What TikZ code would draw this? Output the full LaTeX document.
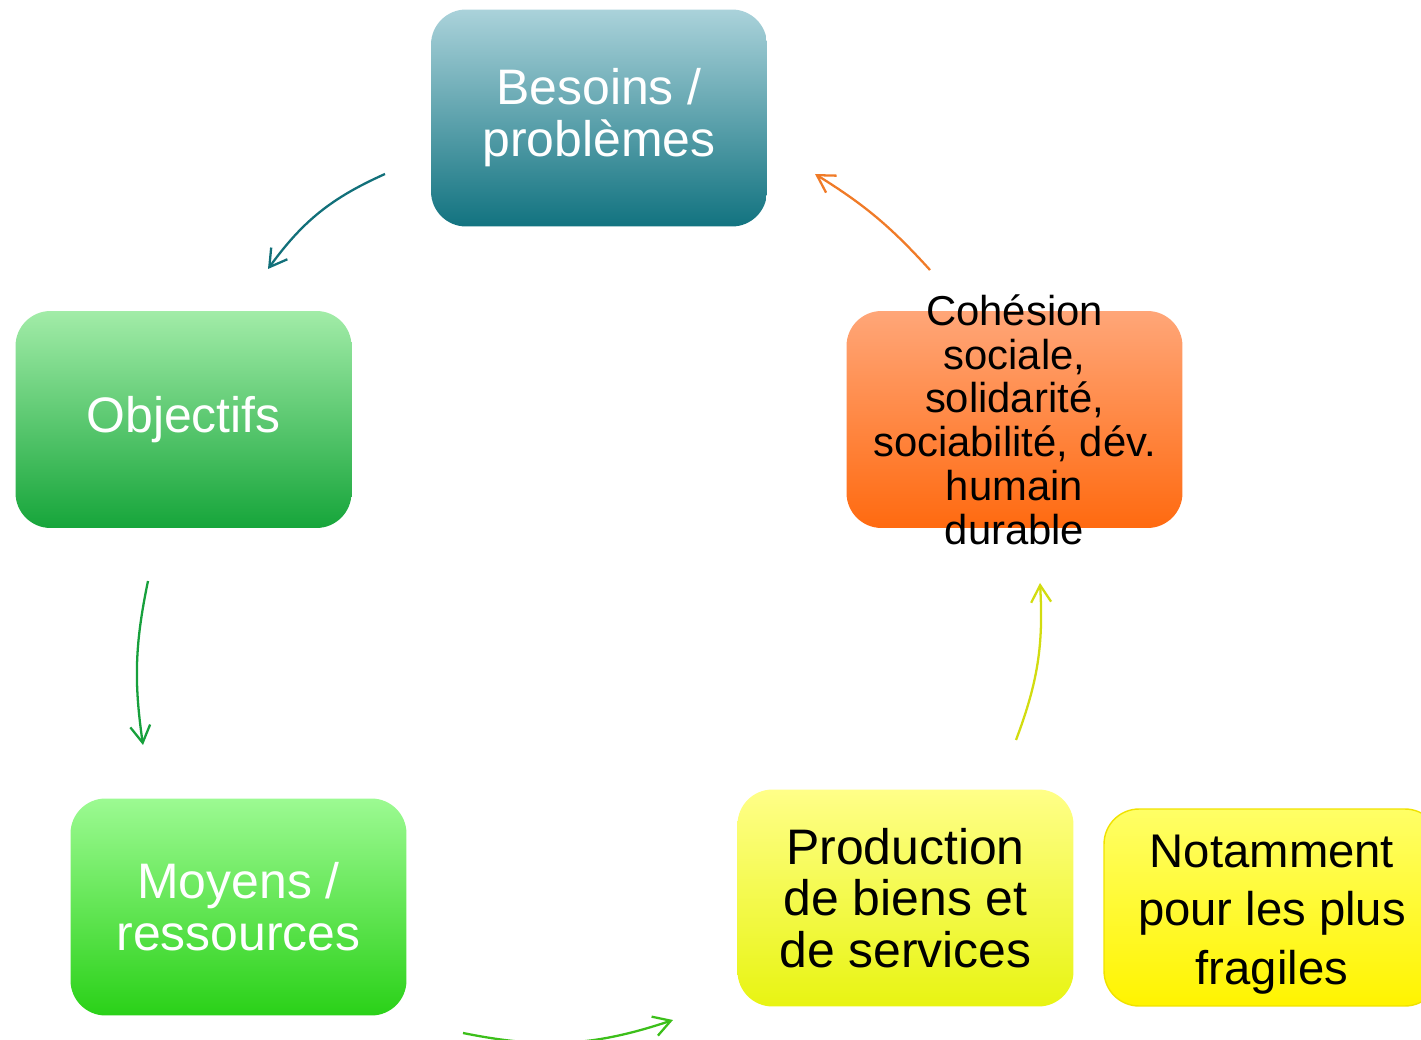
\documentclass[tikz,border=0pt]{standalone}
\usepackage{fontspec}
\setmainfont{Liberation Sans}
\usepackage{tikz}
\usetikzlibrary{arrows.meta}
\usetikzlibrary{positioning}

\definecolor{besoinsTop}{HTML}{AAD2DA}
\definecolor{besoinsBot}{HTML}{127380}
\definecolor{objectifsTop}{HTML}{A2ECA8}
\definecolor{objectifsBot}{HTML}{16A53A}
\definecolor{moyensTop}{HTML}{9CFA92}
\definecolor{moyensBot}{HTML}{2AD118}
\definecolor{productionTop}{HTML}{FFFF88}
\definecolor{productionBot}{HTML}{E8F412}
\definecolor{fragilesTop}{HTML}{FFFF66}
\definecolor{fragilesBot}{HTML}{FFF400}
\definecolor{fragilesLine}{HTML}{F0E200}
\definecolor{cohesionTop}{HTML}{FFA678}
\definecolor{cohesionBot}{HTML}{FF6A10}
\definecolor{arrowTeal}{HTML}{12707A}
\definecolor{arrowGreen}{HTML}{17A03C}
\definecolor{arrowLime}{HTML}{3CBF1A}
\definecolor{arrowYellow}{HTML}{D2DC10}
\definecolor{arrowOrange}{HTML}{F07B28}

\begin{document}
\begin{tikzpicture}[x=0.02cm,y=-0.02cm,
  box/.style={rounded corners=0.7cm, minimum width=6.72cm, minimum height=4.34cm,
              inner sep=0pt, align=center, draw=none,
              font=\fontsize{28.4pt}{29.5pt}\selectfont},
  flow/.style={line width=1.3pt, -{Straight Barb[length=3.4mm,width=4mm]}}]
\useasboundingbox (0,0) rectangle (1421,1040);

% the five steps of the cycle
\node[box, top color=besoinsTop, bottom color=besoinsBot, text=white]
      (besoins) at (599,118) {Besoins /\\problèmes};
\node[box, top color=objectifsTop, bottom color=objectifsBot, text=white]
      (objectifs) at (183.5,419.5) {Objectifs};
\node[box, top color=moyensTop, bottom color=moyensBot, text=white]
      (moyens) at (238.5,907) {Moyens /\\ressources};
\node[box, top color=productionTop, bottom color=productionBot, text=black]
      (production) at (905.5,898) {Production\\de biens et\\de services};
\node[box, top color=cohesionTop, bottom color=cohesionBot]
      (cohesion) at (1014.5,419.5) {};
\node[align=center, inner sep=0pt, text=black,
      font=\fontsize{23.8pt}{24.9pt}\selectfont]
      (cohesiontext) at (cohesion.center) {Cohésion\\sociale,\\solidarité,\\sociabilité, dév.\\humain\\durable};
% side note
\node[box, minimum height=3.94cm, top color=fragilesTop, bottom color=fragilesBot,
      draw=fragilesLine, line width=0.8pt]
      (fragiles) at (1272,907.5) {};
\node[align=center, inner sep=0pt, text=black, yshift=-0.14cm,
      font=\fontsize{26.9pt}{33.2pt}\selectfont]
      (fragilestext) at (fragiles.center) {Notamment\\pour les plus\\fragiles};

% free ends of the arrows
\coordinate (fromBesoins) at (385,174);
\coordinate (toObjectifs) at (268,269);
\coordinate (fromObjectifs) at (148,581);
\coordinate (toMoyens) at (143,745);
\coordinate (fromMoyens) at (463,1033);
\coordinate (toProduction) at (673,1020);
\coordinate (fromProduction) at (1016,740);
\coordinate (toCohesion) at (1040,583);
\coordinate (fromCohesion) at (930,270);
\coordinate (toBesoins) at (815,174);

\draw[flow, arrowTeal] (fromBesoins) to[bend right=15] (toObjectifs);
\draw[flow, arrowGreen] (fromObjectifs) to[bend right=10] (toMoyens);
\draw[flow, arrowLime] (fromMoyens) to[bend right=15] (toProduction);
\draw[flow, arrowYellow] (fromProduction) to[bend right=12] (toCohesion);
\draw[flow, arrowOrange] (fromCohesion) to[bend right=8] (toBesoins);
\end{tikzpicture}
\end{document}
